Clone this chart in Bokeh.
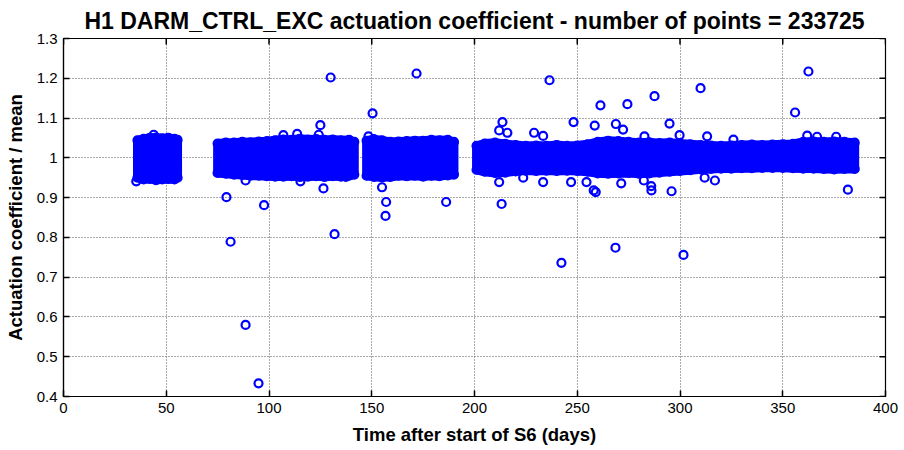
import math
from bokeh.plotting import figure
from bokeh.models import FixedTicker, Range1d
from bokeh.embed import file_html
from bokeh.resources import INLINE

# ---------------- data ----------------
title_text = "H1 DARM_CTRL_EXC actuation coefficient - number of points = 233725"
x_label = "Time after start of S6 (days)"
y_label = "Actuation coefficient / mean"
x_ticks = [0, 50, 100, 150, 200, 250, 300, 350, 400]
y_ticks = [0.4, 0.5, 0.6, 0.7, 0.8, 0.9, 1.0, 1.1, 1.2, 1.3]
y_tick_labels = ["0.4", "0.5", "0.6", "0.7", "0.8", "0.9", "1", "1.1", "1.2", "1.3"]
x_min, x_max = 0, 400
y_min, y_max = 0.4, 1.3

# dense data blocks: time samples with upper / lower envelope of the point cloud
times1 = [36, 39, 42, 45, 48, 51, 54, 55.5]
up1 = [1.044, 1.048, 1.050, 1.051, 1.049, 1.050, 1.048, 1.045]
lo1 = [0.950, 0.946, 0.947, 0.944, 0.946, 0.947, 0.946, 0.950]

times2 = [75, 79, 83, 87, 91, 95, 99, 103, 107, 111, 115, 119, 123, 127, 131, 135, 139, 141.5]
up2 = [1.036, 1.038, 1.038, 1.040, 1.039, 1.041, 1.042, 1.044, 1.046, 1.045, 1.048, 1.046,
       1.047, 1.045, 1.046, 1.044, 1.045, 1.040]
lo2 = [0.962, 0.960, 0.958, 0.957, 0.955, 0.955, 0.954, 0.953, 0.953, 0.954, 0.952, 0.953,
       0.954, 0.952, 0.954, 0.953, 0.955, 0.958]

times3 = [147.5, 151, 155, 159, 163, 167, 171, 175, 179, 183, 187, 190]
up3 = [1.043, 1.047, 1.044, 1.040, 1.041, 1.042, 1.043, 1.043, 1.045, 1.044, 1.045, 1.040]
lo3 = [0.955, 0.952, 0.951, 0.952, 0.955, 0.954, 0.955, 0.953, 0.955, 0.954, 0.956, 0.958]

times4 = [201, 205, 210, 215, 220, 225, 230, 235, 240, 245, 250, 255, 260, 265, 270, 275, 280,
          285, 290, 295, 300, 305, 310, 315, 320, 325, 330, 335, 340, 345, 350, 355, 360, 365,
          370, 375, 380, 385]
up4 = [1.030, 1.036, 1.038, 1.035, 1.032, 1.030, 1.031, 1.030, 1.032, 1.030, 1.031, 1.034,
       1.040, 1.043, 1.042, 1.040, 1.038, 1.039, 1.037, 1.038, 1.036, 1.034, 1.032, 1.031,
       1.030, 1.031, 1.032, 1.033, 1.032, 1.033, 1.034, 1.035, 1.040, 1.041, 1.040, 1.041,
       1.040, 1.038]
lo4 = [0.970, 0.965, 0.962, 0.963, 0.966, 0.968, 0.967, 0.968, 0.967, 0.968, 0.967, 0.965,
       0.961, 0.960, 0.961, 0.962, 0.960, 0.961, 0.963, 0.965, 0.967, 0.969, 0.971, 0.972,
       0.973, 0.973, 0.974, 0.974, 0.975, 0.975, 0.975, 0.974, 0.973, 0.973, 0.972, 0.971,
       0.972, 0.972]

# isolated points (outliers)
out_t = [130, 171.8, 236.5, 362.5, 310, 150.4, 356, 287.6, 274.4, 261.3, 125, 213.6, 212, 216,
         229, 233.4, 248.2, 258.5, 268.8, 272.3, 294.9, 299.8, 282.7, 313.2, 148.4, 124.2, 107,
         113.7, 43.9, 361.9, 366.7, 376, 326,
         155, 157, 156.7, 186.2, 213.2, 212, 223.7, 233.4, 247, 254.5, 258, 259, 79.3, 97.6,
         126.5, 88.6, 115.3, 137.4, 35.4, 81.3, 131.9, 88.6, 94.9, 242.3, 268.6, 301.7, 381.7,
         295.9, 286.1, 286, 271.4, 282.4, 312, 317]
out_v = [1.202, 1.212, 1.195, 1.217, 1.175, 1.112, 1.114, 1.155, 1.135, 1.132, 1.082, 1.090,
         1.069, 1.063, 1.063, 1.055, 1.090, 1.081, 1.085, 1.071, 1.086, 1.057, 1.054, 1.054,
         1.054, 1.058, 1.057, 1.060, 1.058, 1.056, 1.053, 1.053, 1.046,
         0.926, 0.889, 0.854, 0.889, 0.884, 0.939, 0.950, 0.939, 0.939, 0.939, 0.918, 0.914,
         0.901, 0.881, 0.923, 0.943, 0.941, 0.952, 0.941, 0.789, 0.808, 0.580, 0.433, 0.736,
         0.774, 0.756, 0.920, 0.916, 0.918, 0.929, 0.936, 0.943, 0.950, 0.943]

# ---------------- figure ----------------
BLUE = "#0000FF"
FONT = "Liberation Sans"

p = figure(width=904, height=450, x_range=Range1d(x_min, x_max), y_range=Range1d(y_min, y_max),
           output_backend="svg", toolbar_location=None,
           min_border_left=63, min_border_right=19, min_border_top=37, min_border_bottom=54)
p.background_fill_color = "white"
p.border_fill_color = "white"
p.outline_line_color = "black"
p.outline_line_width = 1.2

p.title.text = title_text
p.title.align = "center"
p.title.text_font = FONT
p.title.text_font_size = "23px"
p.title.text_font_style = "bold"
p.title.text_color = "black"
p.title.offset = -4

# grid
for g in (p.xgrid, p.ygrid):
    g.grid_line_color = "#555555"
    g.grid_line_dash = "1 2"
    g.grid_line_width = 1
p.xgrid.ticker = FixedTicker(ticks=x_ticks)
p.ygrid.ticker = FixedTicker(ticks=y_ticks)

for ax, ticks in ((p.xaxis[0], x_ticks), (p.yaxis[0], y_ticks)):
    ax.ticker = FixedTicker(ticks=ticks)
    ax.major_tick_in = 6
    ax.major_tick_out = 0
    ax.minor_tick_line_color = None
    ax.major_tick_line_color = "black"
    ax.major_tick_line_width = 1.5
    ax.axis_line_color = "black"
    ax.axis_line_width = 1.2
    ax.major_label_text_font = FONT
    ax.major_label_text_font_size = "15px"
    ax.major_label_text_color = "black"
    ax.major_label_standoff = 6
    ax.axis_label_text_font = FONT
    ax.axis_label_text_font_size = "18.5px"
    ax.axis_label_text_font_style = "bold"
    ax.axis_label_text_color = "black"

p.yaxis[0].major_label_overrides = {t: s for t, s in zip(y_ticks, y_tick_labels)}
p.xaxis[0].axis_label = x_label
p.yaxis[0].axis_label = y_label
p.xaxis[0].axis_label_standoff = 8
p.yaxis[0].axis_label_standoff = 8

# inward ticks on the right and top frame edges
p.ray(x=[x_max] * len(y_ticks), y=y_ticks, length=6, length_units="screen", angle=math.pi,
      line_color="black", line_width=1.5)
p.ray(x=x_ticks, y=[y_max] * len(x_ticks), length=6, length_units="screen", angle=-math.pi / 2,
      line_color="black", line_width=1.5)

# dense blocks
for tt, uu, ll in ((times1, up1, lo1), (times2, up2, lo2), (times3, up3, lo3), (times4, up4, lo4)):
    xs = list(tt) + list(reversed(tt))
    ys = list(uu) + list(reversed(ll))
    p.patch(xs, ys, fill_color=BLUE, line_color=BLUE, line_width=9, line_join="round")
    p.scatter(tt, uu, marker="circle", size=8, fill_color=None, line_color=BLUE, line_width=2.2)
    p.scatter(tt, ll, marker="circle", size=8, fill_color=None, line_color=BLUE, line_width=2.2)

# outliers
p.scatter(out_t, out_v, marker="circle", size=8, fill_color=None, line_color=BLUE, line_width=2.2)

open("out.html", "w").write(file_html(p, INLINE))
